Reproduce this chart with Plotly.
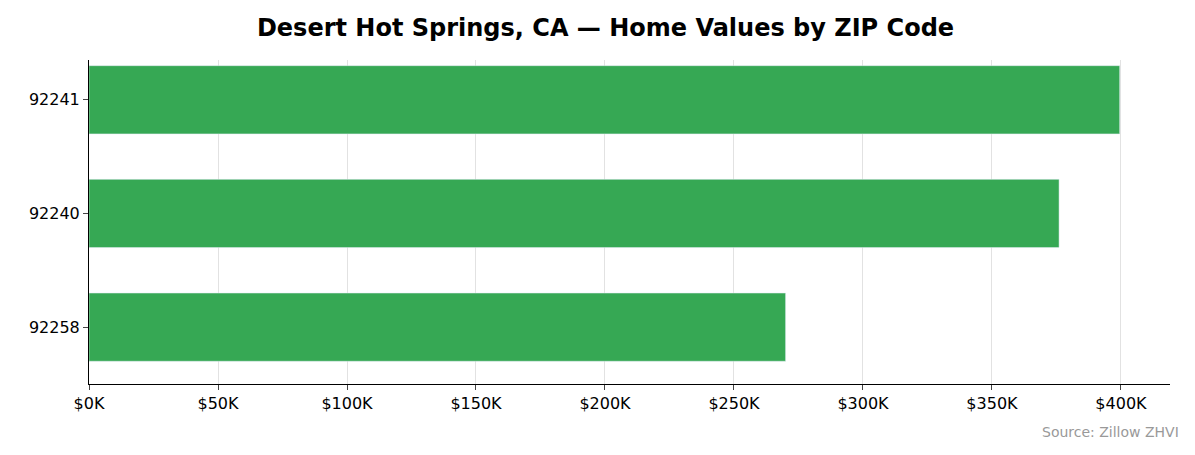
import plotly.graph_objects as go

zips = ["92258", "92240", "92241"]
values = [270000, 376000, 399500]
tick_vals = [0, 50000, 100000, 150000, 200000, 250000, 300000, 350000, 400000]
tick_text = ["$0K", "$50K", "$100K", "$150K", "$200K", "$250K", "$300K", "$350K", "$400K"]

fig = go.Figure(go.Bar(x=values, y=zips, orientation="h", marker_color="#36a854", width=0.6))
fig.update_layout(
    width=1195, height=455, plot_bgcolor="white", paper_bgcolor="white",
    margin=dict(l=81, r=33, t=52, b=79),
    font=dict(family="DejaVu Sans", size=16, color="black"),
    title=dict(text="<b>Desert Hot Springs, CA — Home Values by ZIP Code</b>", x=0.5, xanchor="center",
               y=0.958, yanchor="middle", font=dict(size=24)),
    showlegend=False,
)
fig.update_xaxes(range=[0, 419000], tickvals=tick_vals, ticktext=tick_text, tickfont=dict(size=16),
                 showgrid=True, gridcolor="rgba(160,160,160,0.3)", layer="above traces",
                 showline=True, linecolor="black", ticks="outside", ticklen=5, zeroline=False)
fig.update_yaxes(type="category", range=[-0.5, 2.35], showline=True, linecolor="black", tickfont=dict(size=16),
                 ticks="outside", ticklen=5, showgrid=False)
fig.add_annotation(text="Source: Zillow ZHVI", xref="paper", yref="paper", x=1.01, y=-0.148,
                   xanchor="right", yanchor="middle", showarrow=False, font=dict(size=14, color="#999999"))
fig.write_html("out.html")
